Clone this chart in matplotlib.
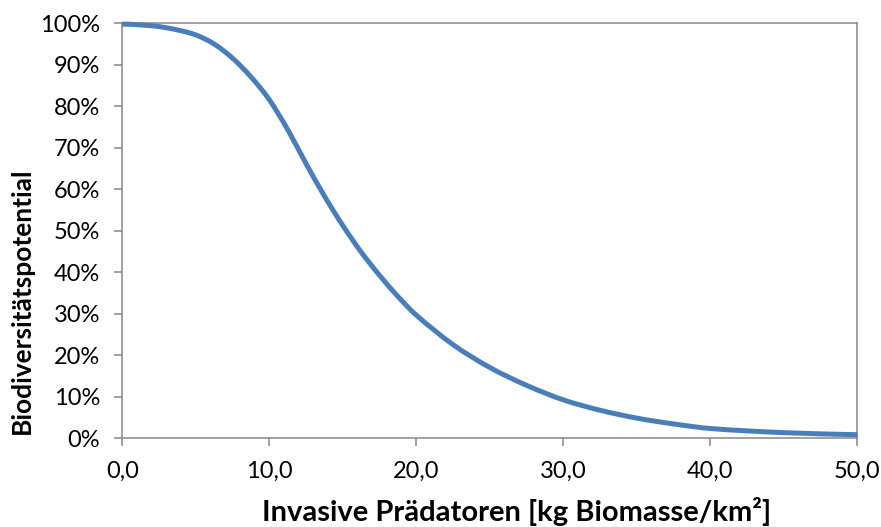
import matplotlib
matplotlib.use("Agg")
import matplotlib.pyplot as plt
import numpy as np
from matplotlib.path import Path
from matplotlib.patches import PathPatch
from matplotlib.ticker import FuncFormatter

# Biodiversity potential (%) vs. biomass of invasive predators (kg/km²)
biomass = [0, 1.25, 2.5, 3.75, 5, 6.25, 7.5, 8.75, 10, 11.25, 12.5, 13.75,
           15, 16.25, 17.5, 18.75, 20, 22.5, 25, 27.5, 30, 32.5, 35, 37.5,
           40, 45, 50]
potential = [99.8, 99.6, 99.2, 98.4, 97.2, 95.0, 91.6, 87.1, 81.6, 74.4,
             66.2, 58.4, 51.3, 44.9, 39.3, 34.2, 29.7, 22.6, 17.1, 12.8,
             9.3, 6.8, 4.9, 3.5, 2.4, 1.4, 0.9]

x_ticks = [0, 10, 20, 30, 40, 50]
y_ticks = [0, 10, 20, 30, 40, 50, 60, 70, 80, 90, 100]

LINE_BLUE = '#4A7EBB'
AXIS_GREY = '#868686'

plt.rcParams['font.family'] = ['Lato', 'DejaVu Sans']


def smooth_path(xs, ys):
    """Smoothed line through the points, built from cubic Bezier segments."""
    pts = np.column_stack([xs, ys]).astype(float)
    n = len(pts)
    verts = [pts[0]]
    codes = [Path.MOVETO]
    for i in range(n - 1):
        p0 = pts[i - 1] if i > 0 else pts[i]
        p1 = pts[i]
        p2 = pts[i + 1]
        p3 = pts[i + 2] if i + 2 < n else pts[i + 1]
        h = p2[0] - p1[0]
        t1 = (p2 - p0) / (p2[0] - p0[0])
        t2 = (p3 - p1) / (p3[0] - p1[0])
        if i == 0:
            t1 = np.array([1.0, 0.0])
        c1 = p1 + t1 * h / 3.0
        c2 = p2 - t2 * h / 3.0
        verts += [c1, c2, p2]
        codes += [Path.CURVE4] * 3
    return Path(verts, codes)


fig = plt.figure(figsize=(8.81, 5.27), dpi=100)
ax = fig.add_axes([0.1388, 0.168, 0.9731 - 0.1388, 0.9558 - 0.168])

curve = PathPatch(smooth_path(biomass, potential), facecolor='none',
                  edgecolor=LINE_BLUE, linewidth=3.6, capstyle='butt',
                  zorder=3, clip_on=False)
ax.add_patch(curve)

ax.set_xlim(0, 50)
ax.set_ylim(0, 100)
ax.set_xticks(x_ticks)
ax.set_yticks(y_ticks)
ax.xaxis.set_major_formatter(FuncFormatter(lambda v, p: f"{v:.1f}".replace('.', ',')))
ax.yaxis.set_major_formatter(FuncFormatter(lambda v, p: f"{v:.0f}%"))

for s in ax.spines.values():
    s.set_color(AXIS_GREY)
    s.set_linewidth(1.1)

ax.tick_params(axis='both', direction='out', length=6, width=1.1,
               color=AXIS_GREY, labelsize=17, labelcolor='black')
ax.tick_params(axis='y', pad=10)
ax.tick_params(axis='x', pad=10)

fig.text(516.5 / 881, 1 - 521 / 527, 'Invasive Prädatoren [kg Biomasse/km²]',
         fontsize=21, fontweight='bold', ha='center', va='baseline')
fig.text(21.5 / 881, 1 - 300.5 / 527, 'Biodiversitätspotential',
         fontsize=19, fontweight='bold', ha='center', va='center',
         rotation=90)

fig.savefig('out.png', dpi=100, facecolor='white')
